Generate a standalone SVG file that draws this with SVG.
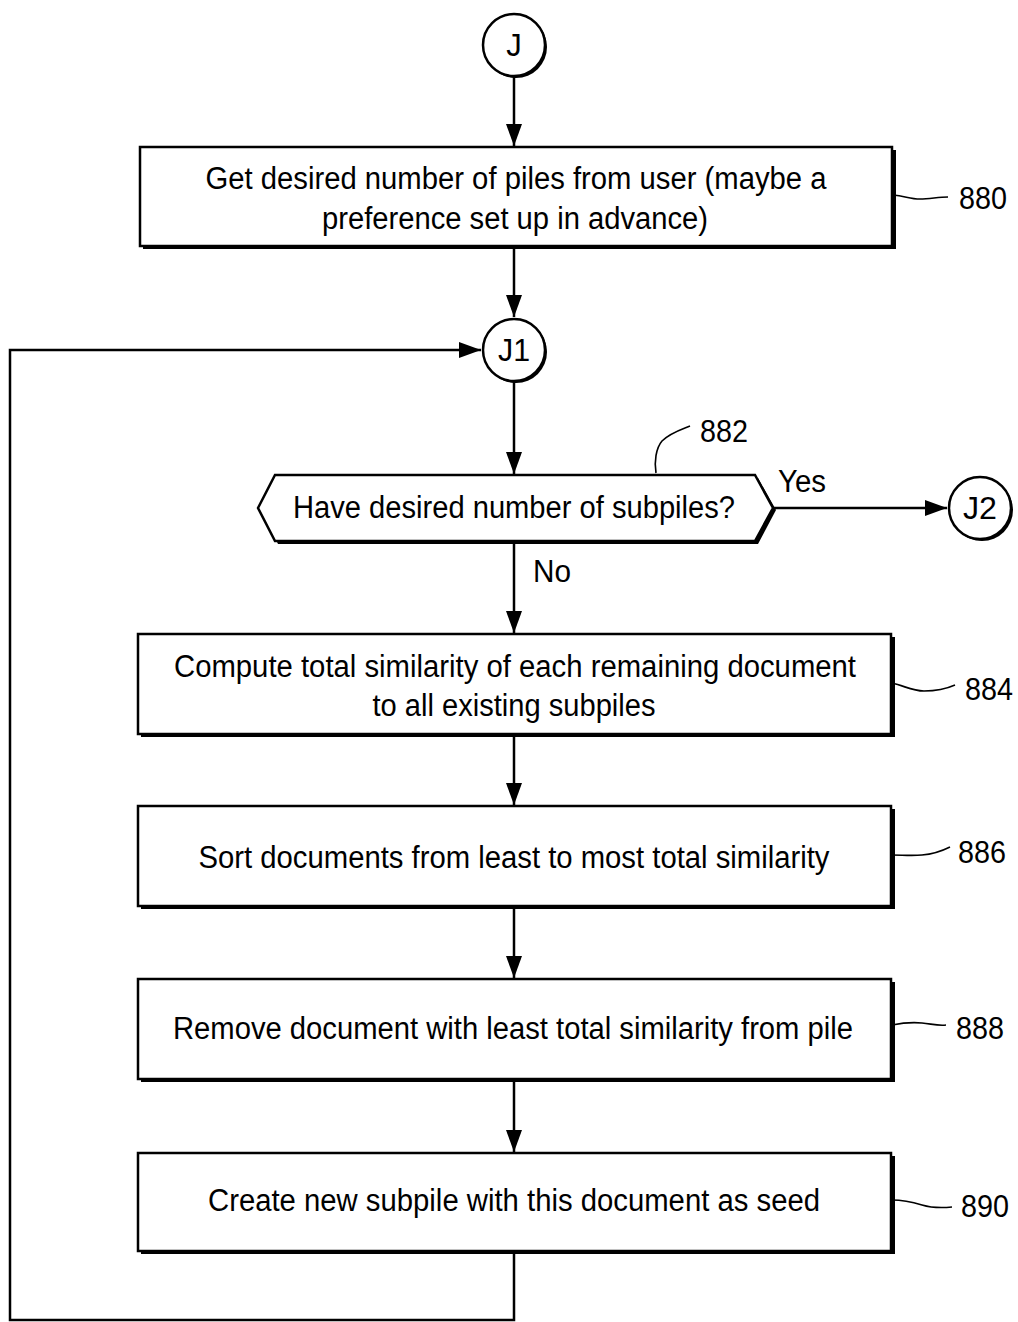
<svg xmlns="http://www.w3.org/2000/svg" width="1018" height="1322" viewBox="0 0 1018 1322">
<defs>
<style>
.t{font-family:"Liberation Sans",Arial,sans-serif;font-size:31px;fill:#000;text-anchor:middle}
.lbl{font-family:"Liberation Sans",Arial,sans-serif;font-size:31px;fill:#000}
.box{fill:#fff;stroke:#000;stroke-width:2.5}
.sh{fill:#000}
.ln{fill:none;stroke:#000;stroke-width:2.5}
.ld{fill:none;stroke:#000;stroke-width:1.6}
</style>
<marker id="ah" markerUnits="userSpaceOnUse" markerWidth="24" markerHeight="16" refX="22" refY="8" orient="auto">
<path d="M0,0 L22,8 L0,16 Z" fill="#000"/>
</marker>
</defs>
<rect width="1018" height="1322" fill="#fff"/>

<g id="connectors">
<line class="ln" x1="514" y1="76" x2="514" y2="146" marker-end="url(#ah)"/>
<line class="ln" x1="514" y1="247" x2="514" y2="317" marker-end="url(#ah)"/>
<line class="ln" x1="514" y1="382" x2="514" y2="474" marker-end="url(#ah)"/>
<line class="ln" x1="773" y1="508" x2="947" y2="508" marker-end="url(#ah)"/>
<line class="ln" x1="514" y1="542" x2="514" y2="633" marker-end="url(#ah)"/>
<line class="ln" x1="514" y1="735" x2="514" y2="805" marker-end="url(#ah)"/>
<line class="ln" x1="514" y1="908" x2="514" y2="978" marker-end="url(#ah)"/>
<line class="ln" x1="514" y1="1081" x2="514" y2="1152" marker-end="url(#ah)"/>
<polyline class="ln" points="514,1252 514,1320 10,1320 10,350 481,350" marker-end="url(#ah)"/>
<text class="lbl" x="778" y="492" textLength="48" lengthAdjust="spacingAndGlyphs">Yes</text>
<text class="lbl" x="533" y="582" textLength="38" lengthAdjust="spacingAndGlyphs">No</text>
</g>

<g id="J">
<circle cx="516" cy="47" r="31" class="sh"/>
<circle cx="514" cy="45" r="31" class="box"/>
<text class="t" x="514" y="56">J</text>
</g>

<g id="n880">
<rect x="143" y="150" width="753" height="99" class="sh"/>
<rect x="140" y="147" width="752" height="99" class="box"/>
<text class="t" x="516" y="189" textLength="621" lengthAdjust="spacingAndGlyphs">Get desired number of piles from user (maybe a</text>
<text class="t" x="515" y="229" textLength="386" lengthAdjust="spacingAndGlyphs">preference set up in advance)</text>
<path class="ld" d="M893,195 C905,196 910,199 920,199 C930,199 938,197 948,197"/>
<text class="lbl" x="959" y="209" textLength="48" lengthAdjust="spacingAndGlyphs">880</text>
</g>

<g id="J1">
<circle cx="516" cy="352" r="31" class="sh"/>
<circle cx="514" cy="350" r="31" class="box"/>
<text class="t" x="514" y="361" textLength="32" lengthAdjust="spacingAndGlyphs">J1</text>
</g>

<g id="n882">
<path d="M261,510 L278,478 L758,478 L776,510 L758,544 L278,544 Z" class="sh"/>
<path d="M258,508 L275,475 L755,475 L773,508 L755,541 L275,541 Z" class="box"/>
<text class="t" x="514" y="518" textLength="442" lengthAdjust="spacingAndGlyphs">Have desired number of subpiles?</text>
<path class="ld" d="M656,473 C654,462 656,448 662,441 C670,433 680,430 690,426"/>
<text class="lbl" x="700" y="442" textLength="48" lengthAdjust="spacingAndGlyphs">882</text>
</g>

<g id="J2">
<circle cx="982" cy="510" r="31" class="sh"/>
<circle cx="980" cy="508" r="31" class="box"/>
<text class="t" x="980" y="519" textLength="34" lengthAdjust="spacingAndGlyphs">J2</text>
</g>

<g id="n884">
<rect x="141" y="637" width="754" height="100" class="sh"/>
<rect x="138" y="634" width="753" height="100" class="box"/>
<text class="t" x="515" y="677" textLength="682" lengthAdjust="spacingAndGlyphs">Compute total similarity of each remaining document</text>
<text class="t" x="514" y="716" textLength="283" lengthAdjust="spacingAndGlyphs">to all existing subpiles</text>
<path class="ld" d="M892,683 C905,686 912,691 924,691 C936,691 946,689 955,685"/>
<text class="lbl" x="965" y="700" textLength="48" lengthAdjust="spacingAndGlyphs">884</text>
</g>

<g id="n886">
<rect x="141" y="809" width="754" height="100" class="sh"/>
<rect x="138" y="806" width="753" height="100" class="box"/>
<text class="t" x="514" y="868" textLength="631" lengthAdjust="spacingAndGlyphs">Sort documents from least to most total similarity</text>
<path class="ld" d="M892,855 C902,855 912,856 922,855 C935,854 942,851 950,847"/>
<text class="lbl" x="958" y="863" textLength="48" lengthAdjust="spacingAndGlyphs">886</text>
</g>

<g id="n888">
<rect x="141" y="982" width="754" height="100" class="sh"/>
<rect x="138" y="979" width="753" height="100" class="box"/>
<text class="t" x="513" y="1039" textLength="680" lengthAdjust="spacingAndGlyphs">Remove document with least total similarity from pile</text>
<path class="ld" d="M892,1025 C902,1023 912,1022 922,1023 C932,1024 938,1026 946,1025"/>
<text class="lbl" x="956" y="1039" textLength="48" lengthAdjust="spacingAndGlyphs">888</text>
</g>

<g id="n890">
<rect x="141" y="1156" width="754" height="98" class="sh"/>
<rect x="138" y="1153" width="753" height="98" class="box"/>
<text class="t" x="514" y="1211" textLength="612" lengthAdjust="spacingAndGlyphs">Create new subpile with this document as seed</text>
<path class="ld" d="M892,1200 C904,1200 912,1202 922,1205 C932,1208 942,1208 952,1207"/>
<text class="lbl" x="961" y="1217" textLength="48" lengthAdjust="spacingAndGlyphs">890</text>
</g>
</svg>
